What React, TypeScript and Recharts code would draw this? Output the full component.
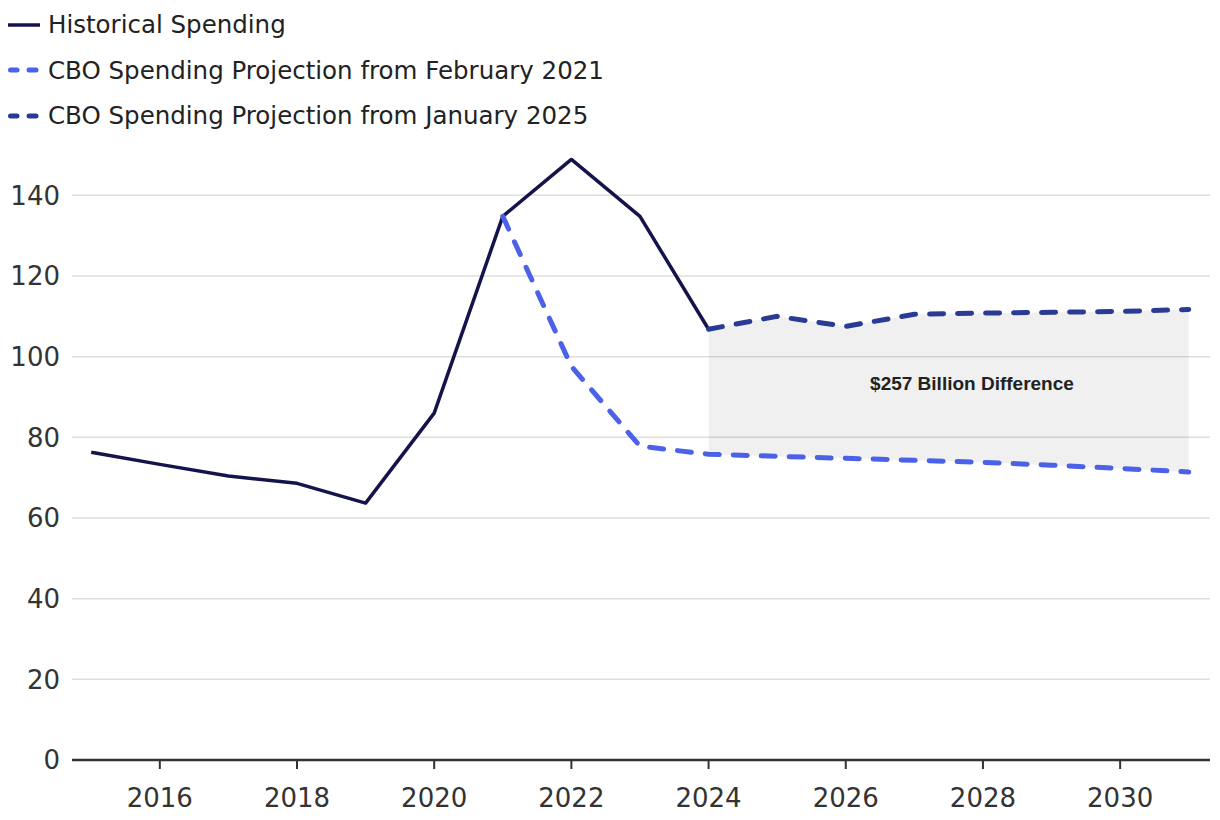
import React from "react";
import { ComposedChart, Line, Area, XAxis, YAxis, CartesianGrid, ReferenceDot } from "recharts";

if (typeof document !== "undefined") {
  document.body.style.margin = "0";
}

const years = [2015, 2016, 2017, 2018, 2019, 2020, 2021, 2022, 2023, 2024, 2025, 2026, 2027, 2028, 2029, 2030, 2031];
const historical = [76.3, 73.3, 70.4, 68.6, 63.7, 86.0, 134.8, 148.9, 134.8, 106.8, null, null, null, null, null, null, null];
const projFeb2021 = [null, null, null, null, null, null, 134.8, 97.6, 77.8, 75.8, 75.3, 74.8, 74.3, 73.8, 73.1, 72.3, 71.4];
const projJan2025 = [null, null, null, null, null, null, null, null, null, 106.8, 110.0, 107.5, 110.5, 110.8, 111.0, 111.2, 111.7];
const xTicks = [2016, 2018, 2020, 2022, 2024, 2026, 2028, 2030];
const yTicks = [0, 20, 40, 60, 80, 100, 120, 140];
const annotation = "$257 Billion Difference";

const data = years.map((year, i) => ({
  year,
  historical: historical[i],
  feb2021: projFeb2021[i],
  jan2025: projJan2025[i],
  gap: projJan2025[i] != null && projFeb2021[i] != null ? [projFeb2021[i], projJan2025[i]] : null,
}));

const COLORS = { hist: "#15134b", feb: "#4b61e8", jan: "#2a3b96" };
const FONT = "'DejaVu Sans', sans-serif";

const legendItems = [
  { label: "Historical Spending", color: COLORS.hist, dashed: false },
  { label: "CBO Spending Projection from February 2021", color: COLORS.feb, dashed: true },
  { label: "CBO Spending Projection from January 2025", color: COLORS.jan, dashed: true },
];

function LegendBlock() {
  return (
    <div style={{ position: "absolute", left: 8, top: 2, fontFamily: FONT, fontSize: 24.5, color: "#222" }}>
      {legendItems.map((it) => (
        <div key={it.label} style={{ display: "flex", alignItems: "center", height: 45.5 }}>
          <svg width={40} height={10}>
            {it.dashed ? (
              <g stroke={it.color} strokeWidth={5} strokeLinecap="round">
                <line x1={2.5} y1={5} x2={9} y2={5} />
                <line x1={21} y1={5} x2={28} y2={5} />
              </g>
            ) : (
              <line x1={0} y1={5} x2={32} y2={5} stroke={it.color} strokeWidth={3.5} />
            )}
          </svg>
          <span>{it.label}</span>
        </div>
      ))}
    </div>
  );
}

export default function App() {
  return (
    <div style={{ position: "relative", width: 1220, height: 820, background: "#fff" }}>
      <ComposedChart width={1220} height={820} data={data} margin={{ top: 155, right: 10, left: 0, bottom: 10 }}>
        <CartesianGrid vertical={false} stroke="#dedede" strokeWidth={1.5} horizontalValues={yTicks.slice(1)} />
        <XAxis
          dataKey="year"
          type="number"
          domain={[2014.72, 2031.31]}
          ticks={xTicks}
          height={50}
          tickSize={9}
          tickMargin={20}
          axisLine={{ stroke: "#333", strokeWidth: 2.5 }}
          tickLine={{ stroke: "#333", strokeWidth: 2 }}
          tick={{ fill: "#333", fontSize: 26, fontFamily: FONT }}
        />
        <YAxis
          type="number"
          domain={[0, 150]}
          ticks={yTicks}
          width={72}
          axisLine={false}
          tickLine={false}
          tickSize={0}
          tickMargin={12}
          tick={{ fill: "#333", fontSize: 26, fontFamily: FONT }}
        />
        <Area dataKey="gap" fill="#000" fillOpacity={0.06} stroke="none" isAnimationActive={false} connectNulls={false} />
        <Line dataKey="historical" stroke={COLORS.hist} strokeWidth={3.5} dot={false} isAnimationActive={false} strokeLinejoin="round" />
        <Line dataKey="feb2021" stroke={COLORS.feb} strokeWidth={5} strokeDasharray="14 14" strokeLinecap="round" dot={false} isAnimationActive={false} />
        <Line dataKey="jan2025" stroke={COLORS.jan} strokeWidth={5} strokeDasharray="14 14" strokeLinecap="round" dot={false} isAnimationActive={false} />
        <ReferenceDot
          x={2027.84}
          y={93.4}
          r={0}
          fill="none"
          stroke="none"
          label={{ value: annotation, position: "center", fill: "#222", fontSize: 19, fontWeight: 700, fontFamily: "'Liberation Sans', Arial, sans-serif" }}
        />
      </ComposedChart>
      <LegendBlock />
    </div>
  );
}
